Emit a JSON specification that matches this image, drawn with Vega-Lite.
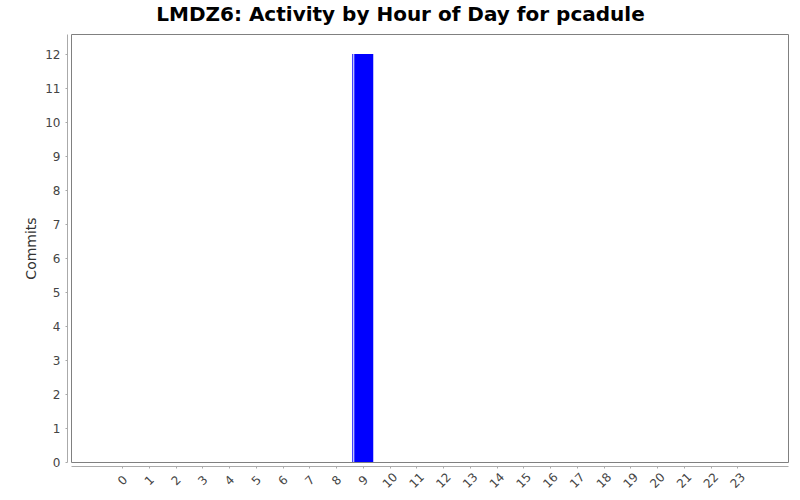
{
  "$schema": "https://vega.github.io/schema/vega-lite/v6.json",
  "autosize": "none",
  "padding": {"left": 71, "top": 34, "right": 12, "bottom": 38},
  "width": 717,
  "height": 428,
  "background": "white",
  "title": {
    "text": "LMDZ6: Activity by Hour of Day for pcadule",
    "font": "DejaVu Sans",
    "fontSize": 20,
    "fontWeight": "bold",
    "color": "#000000",
    "anchor": "middle",
    "dx": -29,
    "offset": 9
  },
  "config": {
    "view": {"stroke": "#808080", "strokeWidth": 1},
    "axis": {
      "labelFont": "DejaVu Sans",
      "labelFontSize": 12,
      "labelColor": "#444444",
      "titleFont": "DejaVu Sans",
      "titleFontSize": 14,
      "titleFontWeight": "normal",
      "titleColor": "#333333",
      "domainColor": "#aaaaaa",
      "tickColor": "#aaaaaa",
      "tickSize": 2,
      "grid": false,
      "offset": 4
    }
  },
  "data": {
    "values": [
      {"hour": 0, "commits": 0},
      {"hour": 1, "commits": 0},
      {"hour": 2, "commits": 0},
      {"hour": 3, "commits": 0},
      {"hour": 4, "commits": 0},
      {"hour": 5, "commits": 0},
      {"hour": 6, "commits": 0},
      {"hour": 7, "commits": 0},
      {"hour": 8, "commits": 0},
      {"hour": 9, "commits": 12},
      {"hour": 10, "commits": 0},
      {"hour": 11, "commits": 0},
      {"hour": 12, "commits": 0},
      {"hour": 13, "commits": 0},
      {"hour": 14, "commits": 0},
      {"hour": 15, "commits": 0},
      {"hour": 16, "commits": 0},
      {"hour": 17, "commits": 0},
      {"hour": 18, "commits": 0},
      {"hour": 19, "commits": 0},
      {"hour": 20, "commits": 0},
      {"hour": 21, "commits": 0},
      {"hour": 22, "commits": 0},
      {"hour": 23, "commits": 0}
    ]
  },
  "encoding": {
    "x": {
      "field": "hour",
      "type": "quantitative",
      "scale": {"domain": [-1.72, 24.71], "nice": false, "zero": false},
      "axis": {
        "title": null,
        "values": [0, 1, 2, 3, 4, 5, 6, 7, 8, 9, 10, 11, 12, 13, 14, 15, 16, 17, 18, 19, 20, 21, 22, 23],
        "format": "d",
        "labelAngle": -45,
        "labelAlign": "center",
        "labelBaseline": "middle",
        "labelPadding": 12,
        "labelOverlap": false,
        "labelFlush": false
      }
    },
    "y": {
      "field": "commits",
      "type": "quantitative",
      "scale": {"domain": [0, 12.59], "nice": false, "zero": true},
      "axis": {
        "title": "Commits",
        "values": [0, 1, 2, 3, 4, 5, 6, 7, 8, 9, 10, 11, 12],
        "labelPadding": 5,
        "titlePadding": 6
      }
    }
  },
  "layer": [
    {
      "mark": {"type": "bar", "color": "#0000ff", "size": 21}
    },
    {
      "transform": [{"filter": "datum.commits > 0"}],
      "mark": {"type": "rule", "color": "#ffffff", "strokeWidth": 1, "xOffset": -9},
      "encoding": {"y2": {"datum": 0}}
    }
  ]
}
